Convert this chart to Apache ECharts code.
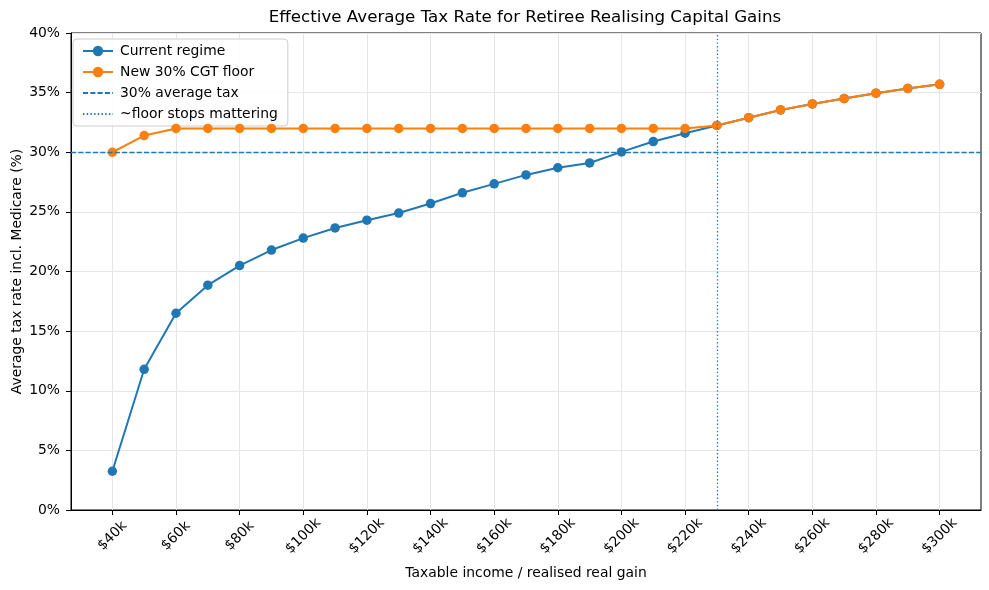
<!DOCTYPE html>
<html>
<head>
<meta charset="utf-8">
<script src="https://cdn.jsdelivr.net/npm/echarts@6/dist/echarts.min.js"></script>
<style>
  html, body { margin: 0; padding: 0; background: #fff; }
  #chart { width: 989px; height: 590px; }
</style>
</head>
<body>
<div id="chart"></div>
<script>
// taxable income / realised gain ($)
var incomes = [40000, 50000, 60000, 70000, 80000, 90000, 100000, 110000, 120000, 130000,
    140000, 150000, 160000, 170000, 180000, 190000, 200000, 210000, 220000, 230000,
    240000, 250000, 260000, 270000, 280000, 290000, 300000];
// average tax rate (%)
var currentRegime = [3.25, 11.8, 16.5, 18.85, 20.5, 21.8, 22.8, 23.65, 24.3, 24.9,
    25.7, 26.6, 27.35, 28.1, 28.7, 29.1, 30.03, 30.9, 31.6, 32.25,
    32.9, 33.55, 34.05, 34.5, 34.95, 35.35, 35.7];
var newFloor = [30.0, 31.4, 32.0, 32.0, 32.0, 32.0, 32.0, 32.0, 32.0, 32.0,
    32.0, 32.0, 32.0, 32.0, 32.0, 32.0, 32.0, 32.0, 32.0, 32.25,
    32.9, 33.55, 34.05, 34.5, 34.95, 35.35, 35.7];
var xTicks = [40000, 60000, 80000, 100000, 120000, 140000, 160000, 180000, 200000,
    220000, 240000, 260000, 280000, 300000];
var avgTaxLine = 30;
var floorStops = 230000;

var FONT = "DejaVu Sans";
var blue = "#1f77b4";
var orange = "#ff7f0e";
var dashed = [5.1, 2.2];
var dotted = [1.4, 2.3];
// reference lines: no marker in the legend, only the line
var hiddenMark = { color: "rgba(0,0,0,0)", borderColor: "rgba(0,0,0,0)", borderWidth: 0 };

function pairs(ys) {
    var out = [];
    for (var i = 0; i < incomes.length; i++) out.push([incomes[i], ys[i]]);
    return out;
}

var chart = echarts.init(document.getElementById("chart"));
var option = {
    animation: false,
    textStyle: { fontFamily: FONT, color: "#000" },
    title: {
        text: "Effective Average Tax Rate for Retiree Realising Capital Gains",
        left: 525,
        textAlign: "center",
        top: 9,
        padding: 0,
        textStyle: { fontFamily: FONT, fontSize: 16.7, fontWeight: "normal", color: "#000" }
    },
    legend: {
        orient: "vertical",
        left: 73,
        top: 39,
        padding: [5, 10, 5, 9],
        itemWidth: 30,
        itemHeight: 13,
        itemGap: 7,
        backgroundColor: "rgba(255,255,255,0.85)",
        borderColor: "#cccccc",
        borderWidth: 1,
        borderRadius: 4,
        textStyle: { fontFamily: FONT, fontSize: 13.9, color: "#000", padding: [0, 0, 0, 2] },
        data: ["Current regime", "New 30% CGT floor", "30% average tax", "~floor stops mattering"]
    },
    grid: {
        left: 71, right: 8, top: 33, bottom: 80,
        containLabel: false,
        outerBoundsMode: "none",
        show: true, borderColor: "#000", borderWidth: 1, backgroundColor: "transparent"
    },
    xAxis: {
        type: "value",
        min: 27000,
        max: 313000,
        name: "Taxable income / realised real gain",
        nameLocation: "middle",
        nameGap: 56,
        nameTextStyle: { fontFamily: FONT, fontSize: 13.9, color: "#000" },
        axisLine: { show: true, lineStyle: { color: "#000", width: 1 } },
        axisTick: { show: true, customValues: xTicks, length: 5, lineStyle: { color: "#000" } },
        axisLabel: {
            customValues: xTicks,
            rotate: 45,
            align: "center",
            verticalAlign: "middle",
            margin: 26,
            fontFamily: FONT,
            fontSize: 13.9,
            color: "#000",
            formatter: function (v) { return "$" + (v / 1000) + "k"; }
        },
        splitLine: { show: true, lineStyle: { color: "#e6e6e6", width: 1 } }
    },
    yAxis: {
        type: "value",
        min: 0,
        max: 40,
        interval: 5,
        name: "Average tax rate incl. Medicare (%)",
        nameLocation: "middle",
        nameGap: 47,
        nameMoveOverlap: false,
        nameTextStyle: { fontFamily: FONT, fontSize: 13.9, color: "#000" },
        axisLine: { show: true, lineStyle: { color: "#000", width: 1 } },
        axisTick: { show: true, length: 5, lineStyle: { color: "#000" } },
        axisLabel: { margin: 11, fontFamily: FONT, fontSize: 13.9, color: "#000", formatter: "{value}%" },
        splitLine: { show: true, lineStyle: { color: "#e6e6e6", width: 1 } }
    },
    series: [
        {
            name: "Current regime",
            type: "line",
            data: pairs(currentRegime),
            symbol: "circle",
            symbolSize: 9.5,
            itemStyle: { color: blue },
            lineStyle: { color: blue, width: 2 },
            z: 3
        },
        {
            name: "New 30% CGT floor",
            type: "line",
            data: pairs(newFloor),
            symbol: "circle",
            symbolSize: 9.5,
            itemStyle: { color: orange },
            lineStyle: { color: orange, width: 2 },
            z: 4
        },
        {
            name: "30% average tax",
            type: "line",
            data: [],
            symbol: "none",
            itemStyle: hiddenMark,
            lineStyle: { color: blue, width: 1.3, type: dashed },
            markLine: {
                silent: true,
                symbol: "none",
                label: { show: false },
                itemStyle: { color: blue },
                lineStyle: { color: blue, opacity: 1, width: 1.3, type: dashed },
                data: [{ yAxis: avgTaxLine }]
            },
            z: 2
        },
        {
            name: "~floor stops mattering",
            type: "line",
            data: [],
            symbol: "none",
            itemStyle: hiddenMark,
            lineStyle: { color: blue, width: 1.3, type: dotted },
            markLine: {
                silent: true,
                symbol: "none",
                label: { show: false },
                itemStyle: { color: blue },
                lineStyle: { color: blue, opacity: 1, width: 1.3, type: dotted },
                data: [{ xAxis: floorStops }]
            },
            z: 2
        }
    ]
};
chart.setOption(option);
</script>
</body>
</html>
